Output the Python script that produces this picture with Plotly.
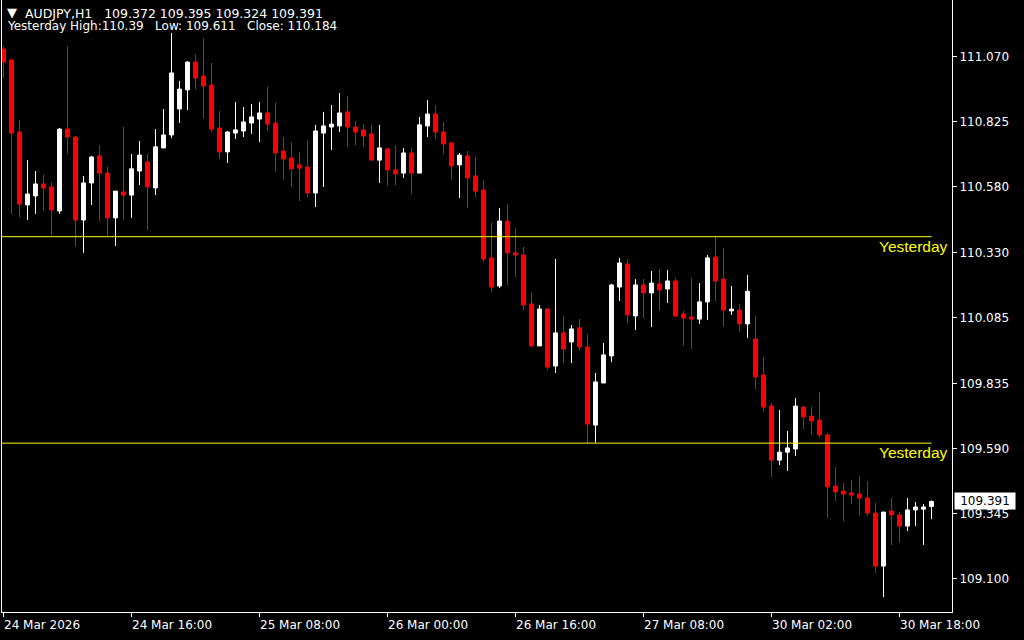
import plotly.graph_objects as go

# ---------------- data (AUDJPY, H1) ----------------
symbol = "AUDJPY,H1"

opens = [
    111.098, 111.057, 110.785, 110.510, 110.544, 110.589, 110.578, 110.487, 110.796, 110.766,
    110.453, 110.593, 110.695, 110.630, 110.461, 110.559, 110.547, 110.638, 110.672, 110.574,
    110.725, 110.774, 110.872, 110.944, 111.049, 110.996, 110.962, 110.800, 110.710, 110.781,
    110.789, 110.819, 110.834, 110.857, 110.819, 110.713, 110.687, 110.661, 110.653, 110.555,
    110.781, 110.804, 110.808, 110.861, 110.804, 110.793, 110.778, 110.679, 110.721, 110.642,
    110.630, 110.706, 110.630, 110.808, 110.853, 110.785, 110.744, 110.661, 110.695, 110.619,
    110.566, 110.310, 110.204, 110.449, 110.329, 110.321, 110.136, 109.978, 110.117, 109.902,
    110.027, 109.993, 110.046, 109.974, 109.679, 109.838, 109.940, 110.200, 110.287, 110.091,
    110.208, 110.178, 110.212, 110.193, 110.223, 110.098, 110.087, 110.079, 110.144, 110.313,
    110.230, 110.110, 110.113, 110.061, 110.004, 109.868, 109.751, 109.547, 109.577, 109.589,
    109.747, 109.713, 109.698, 109.642, 109.449, 109.430, 109.423, 109.419, 109.404, 109.347,
    109.147, 109.355, 109.340, 109.298, 109.359, 109.362, 109.372,
]

highs = [
    111.110, 111.061, 110.830, 110.679, 110.638, 110.623, 110.596, 110.800, 111.110, 110.770,
    110.619, 110.695, 110.736, 110.653, 110.562, 110.804, 110.702, 110.751, 110.702, 110.796,
    110.872, 111.159, 110.978, 111.053, 111.079, 111.140, 111.045, 110.864, 110.789, 110.898,
    110.879, 110.891, 110.898, 110.955, 110.895, 110.766, 110.747, 110.710, 110.755, 110.812,
    110.861, 110.887, 110.932, 110.921, 110.827, 110.815, 110.812, 110.812, 110.725, 110.736,
    110.725, 110.725, 110.842, 110.906, 110.887, 110.823, 110.747, 110.706, 110.713, 110.691,
    110.604, 110.442, 110.498, 110.513, 110.423, 110.351, 110.181, 110.132, 110.121, 110.306,
    110.091, 110.057, 110.079, 110.023, 109.876, 109.989, 110.212, 110.310, 110.306, 110.230,
    110.230, 110.261, 110.268, 110.264, 110.234, 110.110, 110.234, 110.215, 110.321, 110.390,
    110.347, 110.204, 110.136, 110.246, 110.091, 109.936, 109.762, 109.736, 109.657, 109.781,
    109.751, 109.747, 109.804, 109.649, 109.521, 109.461, 109.472, 109.487, 109.468, 109.385,
    109.351, 109.404, 109.351, 109.404, 109.389, 109.381, 109.395,
]

lows = [
    110.989, 110.476, 110.464, 110.453, 110.476, 110.487, 110.396, 110.476, 110.702, 110.351,
    110.329, 110.510, 110.449, 110.393, 110.355, 110.453, 110.461, 110.585, 110.415, 110.547,
    110.725, 110.762, 110.819, 110.868, 110.947, 110.834, 110.785, 110.683, 110.668, 110.759,
    110.766, 110.778, 110.747, 110.789, 110.634, 110.604, 110.578, 110.525, 110.540, 110.502,
    110.578, 110.717, 110.785, 110.729, 110.736, 110.729, 110.679, 110.593, 110.581, 110.585,
    110.612, 110.551, 110.630, 110.766, 110.759, 110.702, 110.604, 110.536, 110.498, 110.540,
    110.295, 110.181, 110.196, 110.208, 110.238, 110.113, 109.974, 109.978, 109.887, 109.876,
    109.913, 109.913, 109.959, 109.611, 109.613, 109.838, 109.917, 110.147, 110.064, 110.038,
    110.083, 110.049, 110.110, 110.140, 110.087, 109.978, 109.966, 110.061, 110.076, 110.147,
    110.049, 110.095, 110.030, 110.008, 109.815, 109.728, 109.483, 109.528, 109.506, 109.562,
    109.664, 109.642, 109.634, 109.328, 109.393, 109.317, 109.381, 109.336, 109.336, 109.121,
    109.030, 109.227, 109.234, 109.279, 109.298, 109.227, 109.324,
]

closes = [
    111.049, 110.781, 110.513, 110.551, 110.589, 110.574, 110.491, 110.796, 110.766, 110.453,
    110.593, 110.691, 110.630, 110.461, 110.562, 110.547, 110.646, 110.698, 110.578, 110.729,
    110.774, 111.008, 110.947, 111.049, 110.989, 110.959, 110.796, 110.710, 110.785, 110.793,
    110.823, 110.842, 110.857, 110.815, 110.706, 110.683, 110.646, 110.649, 110.555, 110.789,
    110.808, 110.815, 110.857, 110.804, 110.785, 110.770, 110.679, 110.725, 110.642, 110.627,
    110.706, 110.630, 110.812, 110.853, 110.785, 110.740, 110.657, 110.698, 110.612, 110.562,
    110.306, 110.200, 110.449, 110.329, 110.321, 110.132, 109.978, 110.117, 109.898, 110.027,
    109.966, 110.042, 109.974, 109.683, 109.842, 109.944, 110.208, 110.291, 110.095, 110.208,
    110.178, 110.215, 110.189, 110.223, 110.091, 110.083, 110.079, 110.144, 110.310, 110.223,
    110.113, 110.117, 110.061, 110.184, 109.861, 109.747, 109.547, 109.577, 109.593, 109.751,
    109.710, 109.695, 109.642, 109.446, 109.427, 109.419, 109.415, 109.404, 109.347, 109.147,
    109.351, 109.340, 109.298, 109.359, 109.370, 109.370, 109.391,
]

bar_index = list(range(len(closes)))

x_tick_index = [0, 16, 32, 48, 64, 80, 96, 112]
x_tick_labels = ["24 Mar 2026", "24 Mar 16:00", "25 Mar 08:00", "26 Mar 00:00",
                 "26 Mar 16:00", "27 Mar 08:00", "30 Mar 02:00", "30 Mar 18:00"]

y_tick_values = [111.070, 110.825, 110.580, 110.330, 110.085, 109.835, 109.590, 109.345, 109.100]
y_tick_labels = ["%.3f" % v for v in y_tick_values]

yesterday_high = 110.39
yesterday_low = 109.611
yesterday_close = 110.184

# ---------------- layout geometry ----------------
W, H = 1024, 640
ML, MR, MT, MB = 2, 72, 0, 28
PW, PH = W - ML - MR, H - MT - MB
x_range = [-0.1875, 118.5625]
y_range = [108.9738, 111.2832]

def paper_x(px):
    return (px - ML) / PW

def paper_y(py):
    return 1 - (py - MT) / PH

FONT = "DejaVu Sans"
FG = "#ffffff"

fig = go.Figure()

fig.add_trace(go.Candlestick(
    x=bar_index, open=opens, high=highs, low=lows, close=closes,
    increasing=dict(line=dict(color="#ffffff", width=1), fillcolor="#ffffff"),
    decreasing=dict(line=dict(color="#ff0000", width=1), fillcolor="#ff0000"),
    whiskerwidth=0, hoverinfo="skip", showlegend=False,
))

for level in (yesterday_high, yesterday_low):
    fig.add_trace(go.Scatter(
        x=[x_range[0] - 1, bar_index[-1]], y=[level, level], mode="lines",
        line=dict(color="#ffff00", width=1), hoverinfo="skip", showlegend=False,
    ))

annotations = []
# header
annotations.append(dict(text="\u25BC", xref="paper", yref="paper",
                        x=paper_x(5), y=paper_y(12.5), xanchor="left", yanchor="middle",
                        showarrow=False, font=dict(family=FONT, size=13, color=FG)))
hdr1 = symbol + "\u00a0\u00a0\u00a0" + " ".join("%.3f" % v for v in
                                                (opens[-1], highs[-1], lows[-1], closes[-1]))
annotations.append(dict(text=hdr1, xref="paper", yref="paper",
                        x=paper_x(23), y=paper_y(13), xanchor="left", yanchor="middle",
                        showarrow=False, font=dict(family=FONT, size=12.5, color=FG)))
hdr2 = ("Yesterday High:%s\u00a0\u00a0\u00a0Low: %.3f\u00a0\u00a0\u00a0Close: %.3f"
        % (str(yesterday_high), yesterday_low, yesterday_close))
annotations.append(dict(text=hdr2, xref="paper", yref="paper",
                        x=paper_x(5), y=paper_y(26), xanchor="left", yanchor="middle",
                        showarrow=False, font=dict(family=FONT, size=12, color=FG)))

# x-axis labels (left-aligned at tick, MT4 style)
for xi, lab in zip(x_tick_index, x_tick_labels):
    annotations.append(dict(text=lab, xref="x", yref="paper", x=xi, y=0,
                            xanchor="left", yanchor="top", xshift=-2, yshift=-4,
                            showarrow=False, font=dict(family=FONT, size=12, color=FG)))

# Yesterday labels
for level in (yesterday_high, yesterday_low):
    annotations.append(dict(text="Yesterday", xref="paper", yref="y", x=1, y=level,
                            xanchor="right", yanchor="top", xshift=-2, yshift=1,
                            showarrow=False,
                            font=dict(family="Liberation Sans", size=15.5, color="#ffff00")))

# current price box
annotations.append(dict(text="%.3f" % closes[-1], xref="paper", yref="y", x=1, y=closes[-1],
                        xanchor="left", yanchor="middle", xshift=2, showarrow=False,
                        bgcolor="#ffffff", borderpad=1, width=58,
                        font=dict(family=FONT, size=12, color="#000000")))

fig.update_layout(
    width=W, height=H,
    margin=dict(l=ML, r=MR, t=MT, b=MB, pad=0),
    paper_bgcolor="#000000", plot_bgcolor="#000000",
    showlegend=False, hovermode=False, dragmode=False,
    annotations=annotations,
    xaxis=dict(range=x_range, showgrid=False, zeroline=False,
               showline=True, linecolor=FG, linewidth=1, mirror=False,
               ticks="outside", ticklen=4, tickcolor=FG, tickwidth=1,
               tickvals=x_tick_index, showticklabels=False,
               rangeslider=dict(visible=False), fixedrange=True),
    yaxis=dict(range=y_range, side="right", showgrid=False, zeroline=False,
               showline=True, linecolor=FG, linewidth=1, mirror=True,
               ticks="outside", ticklen=4, tickcolor=FG, tickwidth=1,
               tickvals=y_tick_values, ticktext=y_tick_labels,
               tickfont=dict(family=FONT, size=12, color=FG), fixedrange=True),
)

fig.write_html("out.html", config={"displayModeBar": False, "staticPlot": True},
               post_script="document.body.style.margin='0';document.body.style.overflow='hidden';")
